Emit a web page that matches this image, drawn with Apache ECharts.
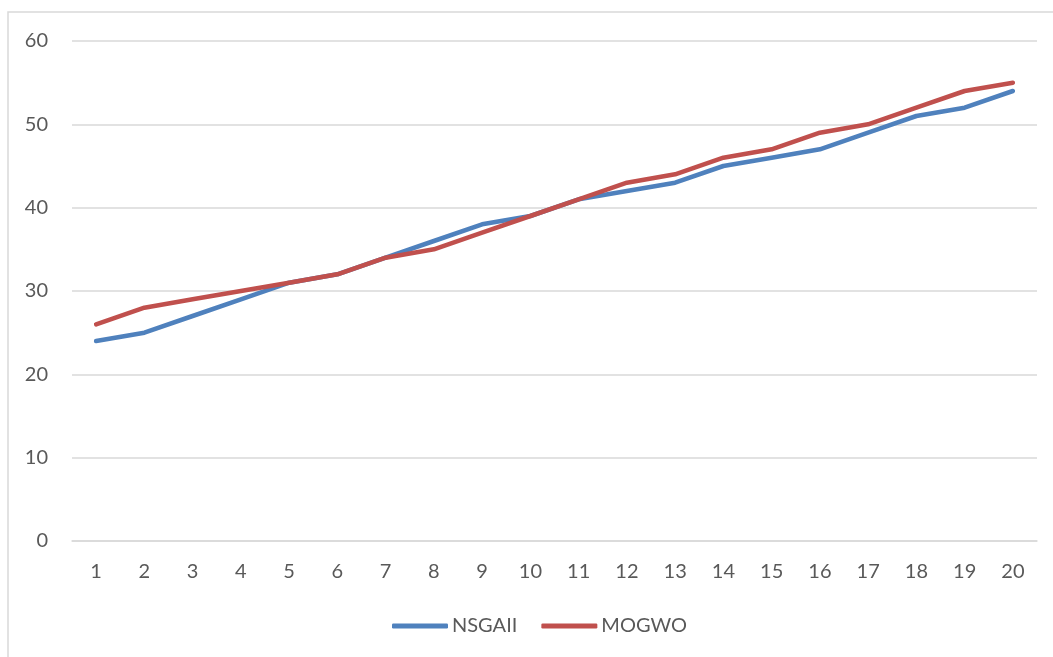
<!DOCTYPE html>
<html>
<head>
<meta charset="utf-8">
<script src="https://cdn.jsdelivr.net/npm/echarts@6/dist/echarts.min.js"></script>
<style>
  html, body { margin: 0; padding: 0; background: #fff; }
  #chart { width: 1053px; height: 657px; }
</style>
</head>
<body>
<div id="chart"></div>
<script>
// Iteration index on the x axis
const categories = ['1','2','3','4','5','6','7','8','9','10','11','12','13','14','15','16','17','18','19','20'];
// Results per iteration for each algorithm
const nsgaii = [24, 25, 27, 29, 31, 32, 34, 36, 38, 39, 41, 42, 43, 45, 46, 47, 49, 51, 52, 54];
const mogwo  = [26, 28, 29, 30, 31, 32, 34, 35, 37, 39, 41, 43, 44, 46, 47, 49, 50, 52, 54, 55];
const seriesNames = ['NSGAII', 'MOGWO'];
const seriesColors = ['#4f81bd', '#c0504d'];

const chart = echarts.init(document.getElementById('chart'), null, { renderer: 'canvas' });
const font = 'Lato, "Open Sans", "Liberation Sans", sans-serif';

chart.setOption({
  animation: false,
  backgroundColor: '#ffffff',
  graphic: [{
    type: 'polyline',
    shape: { points: [[8, 700], [8, 12], [1100, 12]] },
    style: { stroke: '#d9d9d9', lineWidth: 1.5, fill: null },
    silent: true
  }],
  grid: { left: 72, right: 16, top: 41, bottom: 116 },
  legend: {
    data: seriesNames,
    bottom: 16,
    left: 387,
    icon: 'roundRect',
    itemWidth: 56,
    itemHeight: 5,
    itemGap: 24,
    textStyle: { color: '#595959', fontSize: 20, fontFamily: font, padding: [0, 0, 0, -1] }
  },
  xAxis: {
    type: 'category',
    data: categories,
    boundaryGap: true,
    axisLine: { show: true, lineStyle: { color: '#d9d9d9', width: 1.5 } },
    axisTick: { show: false },
    axisLabel: { color: '#595959', fontSize: 20, fontFamily: font, margin: 21 }
  },
  yAxis: {
    type: 'value',
    min: 0,
    max: 60,
    interval: 10,
    axisLine: { show: false },
    axisTick: { show: false },
    splitLine: { lineStyle: { color: '#d9d9d9', width: 1.5 } },
    axisLabel: { color: '#595959', fontSize: 20, fontFamily: font, margin: 24 }
  },
  series: [
    {
      name: seriesNames[0],
      type: 'line',
      data: nsgaii,
      symbol: 'none',
      color: seriesColors[0],
      lineStyle: { width: 4.5, color: seriesColors[0], cap: 'round', join: 'round' }
    },
    {
      name: seriesNames[1],
      type: 'line',
      data: mogwo,
      symbol: 'none',
      color: seriesColors[1],
      lineStyle: { width: 4.5, color: seriesColors[1], cap: 'round', join: 'round' }
    }
  ]
});
</script>
</body>
</html>
